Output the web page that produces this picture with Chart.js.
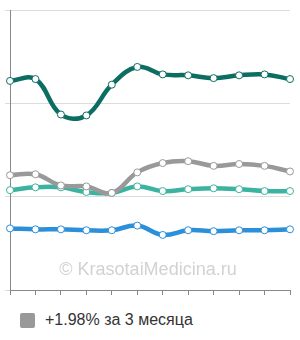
<!DOCTYPE html>
<html>
<head>
<meta charset="utf-8">
<script src="https://cdn.jsdelivr.net/npm/chart.js@4/dist/chart.umd.min.js"></script>
<style>
    html, body { margin: 0; padding: 0; background: #fff; }
    .wrap { position: relative; width: 300px; height: 340px; font-family: "Liberation Sans", Arial, sans-serif; }
    .chart-box { position: absolute; left: 0; top: 0; width: 300px; height: 300px; }
    .watermark { position: absolute; left: 0; width: 296px; top: 259px; text-align: center; font-size: 18px; color: #d2d2d2; pointer-events: none; }
    .legend { position: absolute; left: 20px; top: 311px; display: flex; align-items: center; font-size: 16px; color: #333; }
    .legend .box { width: 15px; height: 15px; border-radius: 2px; margin-right: 10px; }
</style>
</head>
<body>
<div class="wrap">
    <div class="chart-box"><canvas id="chart" width="300" height="300"></canvas></div>
    <div class="watermark">© KrasotaiMedicina.ru</div>
    <div class="legend" id="legend"></div>
</div>
<script>
// 12 месяцев, подписи на оси не показываются
var labels = ['1', '2', '3', '4', '5', '6', '7', '8', '9', '10', '11', '12'];

var darkTeal = [2.24, 2.26, 1.88, 1.87, 2.20, 2.39, 2.31, 2.30, 2.27, 2.30, 2.31, 2.26];
var gray = [1.23, 1.24, 1.12, 1.11, 1.04, 1.26, 1.36, 1.38, 1.33, 1.35, 1.33, 1.27];
var lightTeal = [1.07, 1.10, 1.10, 1.05, 1.04, 1.11, 1.06, 1.08, 1.09, 1.08, 1.06, 1.06];
var blue = [0.66, 0.65, 0.65, 0.64, 0.64, 0.69, 0.59, 0.64, 0.63, 0.64, 0.64, 0.65];

var legendLabel = '+1.98% за 3 месяца';

function line(data, color, label) {
    return {
        label: label,
        data: data,
        borderColor: color,
        borderWidth: 4.5,
        tension: 0.4,
        pointRadius: 3.5,
        pointBackgroundColor: '#fff',
        pointBorderColor: color,
        pointBorderWidth: 1,
        fill: false
    };
}

var datasets = [
    line(darkTeal, '#0c6e63', ''),
    line(gray, '#999999', legendLabel),
    line(lightTeal, '#3cb3a0', ''),
    line(blue, '#2b8fd9', '')
];

new Chart(document.getElementById('chart'), {
    type: 'line',
    data: { labels: labels, datasets: datasets },
    options: {
        responsive: false,
        animation: false,
        layout: { padding: { left: 5, right: 10, top: 10, bottom: 5 } },
        plugins: {
            legend: { display: false },
            tooltip: { enabled: false }
        },
        scales: {
            x: {
                offset: false,
                ticks: { display: false },
                grid: { drawOnChartArea: false, drawTicks: true, tickLength: 5, color: '#888' },
                border: { color: '#888' }
            },
            y: {
                min: 0,
                max: 3,
                ticks: { display: false, stepSize: 1 },
                grid: { color: '#dcdcdc', tickLength: 5 },
                border: { color: '#888' }
            }
        }
    }
});

// легенда только для серой линии
var lg = document.getElementById('legend');
datasets.filter(function (d) { return d.label; }).forEach(function (d) {
    var box = document.createElement('span');
    box.className = 'box';
    box.style.background = d.borderColor;
    var txt = document.createElement('span');
    txt.textContent = d.label;
    lg.appendChild(box);
    lg.appendChild(txt);
});
</script>
</body>
</html>
